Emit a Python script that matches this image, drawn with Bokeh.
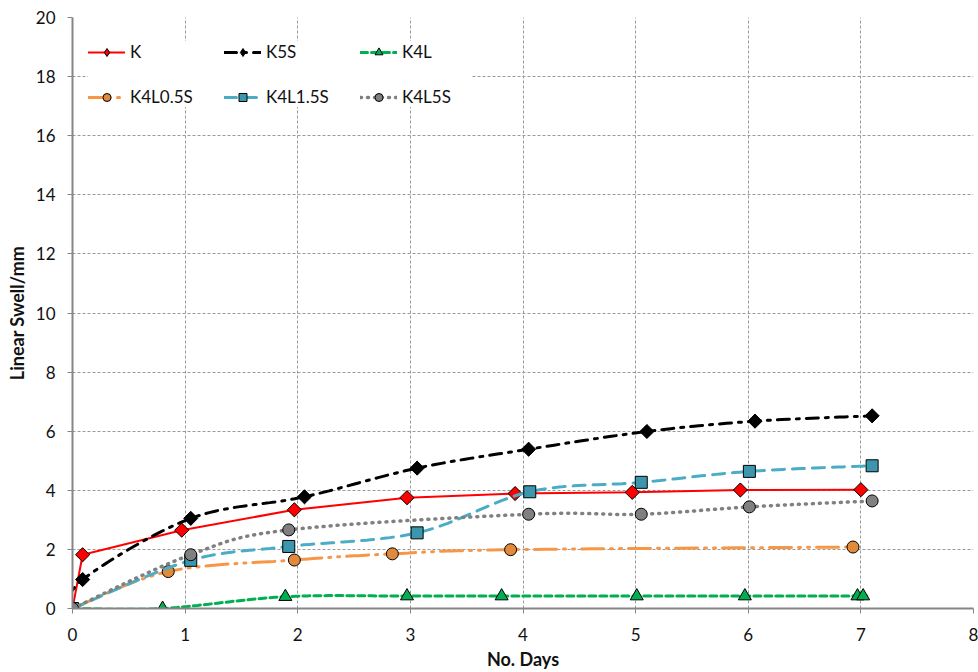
import numpy as np
from bokeh.plotting import figure
from bokeh.models import Range1d, Legend, LegendItem, FixedTicker
from bokeh.embed import file_html
from bokeh.resources import INLINE

# ---- data ----
days_K = [0, 0.09, 0.97, 1.97, 2.97, 3.93, 4.97, 5.93, 7.00]
swell_K = [0, 1.82, 2.65, 3.34, 3.75, 3.89, 3.93, 4.01, 4.02]

days_K5S = [0, 0.09, 1.05, 2.06, 3.06, 4.05, 5.10, 6.06, 7.10]
swell_K5S = [0, 0.98, 3.05, 3.78, 4.75, 5.39, 5.99, 6.34, 6.52]

days_K4L = [0, 0.80, 1.89, 2.97, 3.81, 5.01, 5.97, 6.97, 7.02]
swell_K4L = [0, 0.0, 0.40, 0.42, 0.42, 0.42, 0.42, 0.42, 0.42]

days_K4L05S = [0, 0.85, 1.97, 2.84, 3.89, 6.93]
swell_K4L05S = [0, 1.25, 1.64, 1.85, 1.99, 2.08]

days_K4L15S = [0, 1.05, 1.92, 3.06, 4.06, 5.05, 6.01, 7.10]
swell_K4L15S = [0, 1.63, 2.10, 2.56, 3.95, 4.27, 4.64, 4.83]

days_K4L5S = [0, 1.05, 1.92, 4.05, 5.05, 6.01, 7.10]
swell_K4L5S = [0, 1.82, 2.66, 3.19, 3.19, 3.44, 3.64]

x_ticks = [0, 1, 2, 3, 4, 5, 6, 7, 8]
y_ticks = [0, 2, 4, 6, 8, 10, 12, 14, 16, 18, 20]

FONT = "Lato"
SX, SY = 112.6, 29.6  # screen aspect used for smoothing


def smooth(xs, ys, n=24):
    P = np.column_stack([np.asarray(xs, float) * SX, np.asarray(ys, float) * SY])
    out = [P[0]]
    t = np.linspace(0, 1, n)[1:, None]
    for i in range(len(P) - 1):
        p0 = P[i - 1] if i > 0 else P[i]
        p1, p2 = P[i], P[i + 1]
        p3 = P[i + 2] if i + 2 < len(P) else P[i + 1]
        c1 = p1 + (p2 - p0) / 6.0
        c2 = p2 - (p3 - p1) / 6.0
        B = (1 - t) ** 3 * p1 + 3 * (1 - t) ** 2 * t * c1 + 3 * (1 - t) * t ** 2 * c2 + t ** 3 * p2
        out.extend(B)
    out = np.array(out)
    return out[:, 0] / SX, out[:, 1] / SY


p = figure(width=978, height=672, x_range=Range1d(0, 8), y_range=Range1d(0, 20),
           output_backend="svg", toolbar_location=None,
           min_border_left=72, min_border_top=17, min_border_bottom=63, min_border_right=5)
p.outline_line_color = None
p.background_fill_color = "white"

for ax in (p.xaxis[0], p.yaxis[0]):
    ax.axis_line_color = "#868686"
    ax.axis_line_width = 2
    ax.major_tick_line_color = "#868686"
    ax.major_tick_out = 5
    ax.major_tick_in = 0
    ax.minor_tick_line_color = None
    ax.major_label_text_font = FONT
    ax.major_label_text_font_size = "17px"
    ax.major_label_text_color = "#111111"
    ax.axis_label_text_font = FONT
    ax.axis_label_text_font_size = "18px"
    ax.axis_label_text_font_style = "bold"
    ax.axis_label_text_color = "#111111"

p.xaxis.ticker = FixedTicker(ticks=x_ticks)
p.yaxis.ticker = FixedTicker(ticks=y_ticks)
p.xaxis.axis_label = "No. Days"
p.yaxis.axis_label = "Linear Swell/mm"
p.xaxis.major_label_standoff = 14
p.yaxis.major_label_standoff = 12
p.xaxis.axis_label_standoff = 4
p.yaxis.axis_label_standoff = 5

for g in (p.xgrid[0], p.ygrid[0]):
    g.grid_line_color = "#9a9a9a"
    g.grid_line_dash = "3 2"
    g.grid_line_width = 1

DIAMOND = dict(marker="square", angle=np.pi / 4, size=10)
series = [
    ("K", days_K, swell_K, False, "#FF0000", 2, "solid", DIAMOND, "#FF0000"),
    ("K5S", days_K5S, swell_K5S, True, "#000000", 3, "12 7 3 7", DIAMOND, "#000000"),
    ("K4L", days_K4L, swell_K4L, True, "#00B050", 3, "7 4", dict(marker="triangle", size=13), "#00B050"),
    ("K4L0.5S", days_K4L05S, swell_K4L05S, True, "#F79646", 3, "22 7 2 7 2 7", dict(marker="circle", size=12), "#E08A3C"),
    ("K4L1.5S", days_K4L15S, swell_K4L15S, True, "#4BACC6", 3, "12 8", dict(marker="square", size=12), "#3C97AE"),
    ("K4L5S", days_K4L5S, swell_K4L5S, True, "#808080", 3.5, "1 6", dict(marker="circle", size=12), "#808080"),
]

items = []
for name, xs, ys, sm, col, lw, dash, mk, fill in series:
    if sm:
        lx, ly = smooth(xs, ys)
    else:
        lx, ly = xs, ys
    lr = p.line(lx, ly, line_color=col, line_width=lw, line_dash=dash, line_cap="round")
    if mk is DIAMOND:
        # upright diamond (used as the legend swatch), hidden under the rotated square
        lg = p.scatter(xs, ys, marker="diamond", size=13, fill_color=fill,
                       line_color="#000000", line_width=1)
        p.scatter(xs, ys, fill_color=fill, line_color="#000000", line_width=1, **mk)
        items.append(LegendItem(label=name, renderers=[lr, lg]))
    else:
        sr = p.scatter(xs, ys, fill_color=fill, line_color="#000000", line_width=1, **mk)
        items.append(LegendItem(label=name, renderers=[lr, sr]))

legend = Legend(items=items, location=(16, 501), orientation="horizontal", ncols=3,
                margin=0, padding=16, spacing=24, glyph_width=37, glyph_height=20,
                label_standoff=5, label_width=70, border_line_color=None,
                background_fill_color="white", background_fill_alpha=1.0,
                label_text_font=FONT, label_text_font_size="17px",
                label_text_color="#111111")
p.add_layout(legend, "center")

open("out.html", "w").write(file_html(p, INLINE))
